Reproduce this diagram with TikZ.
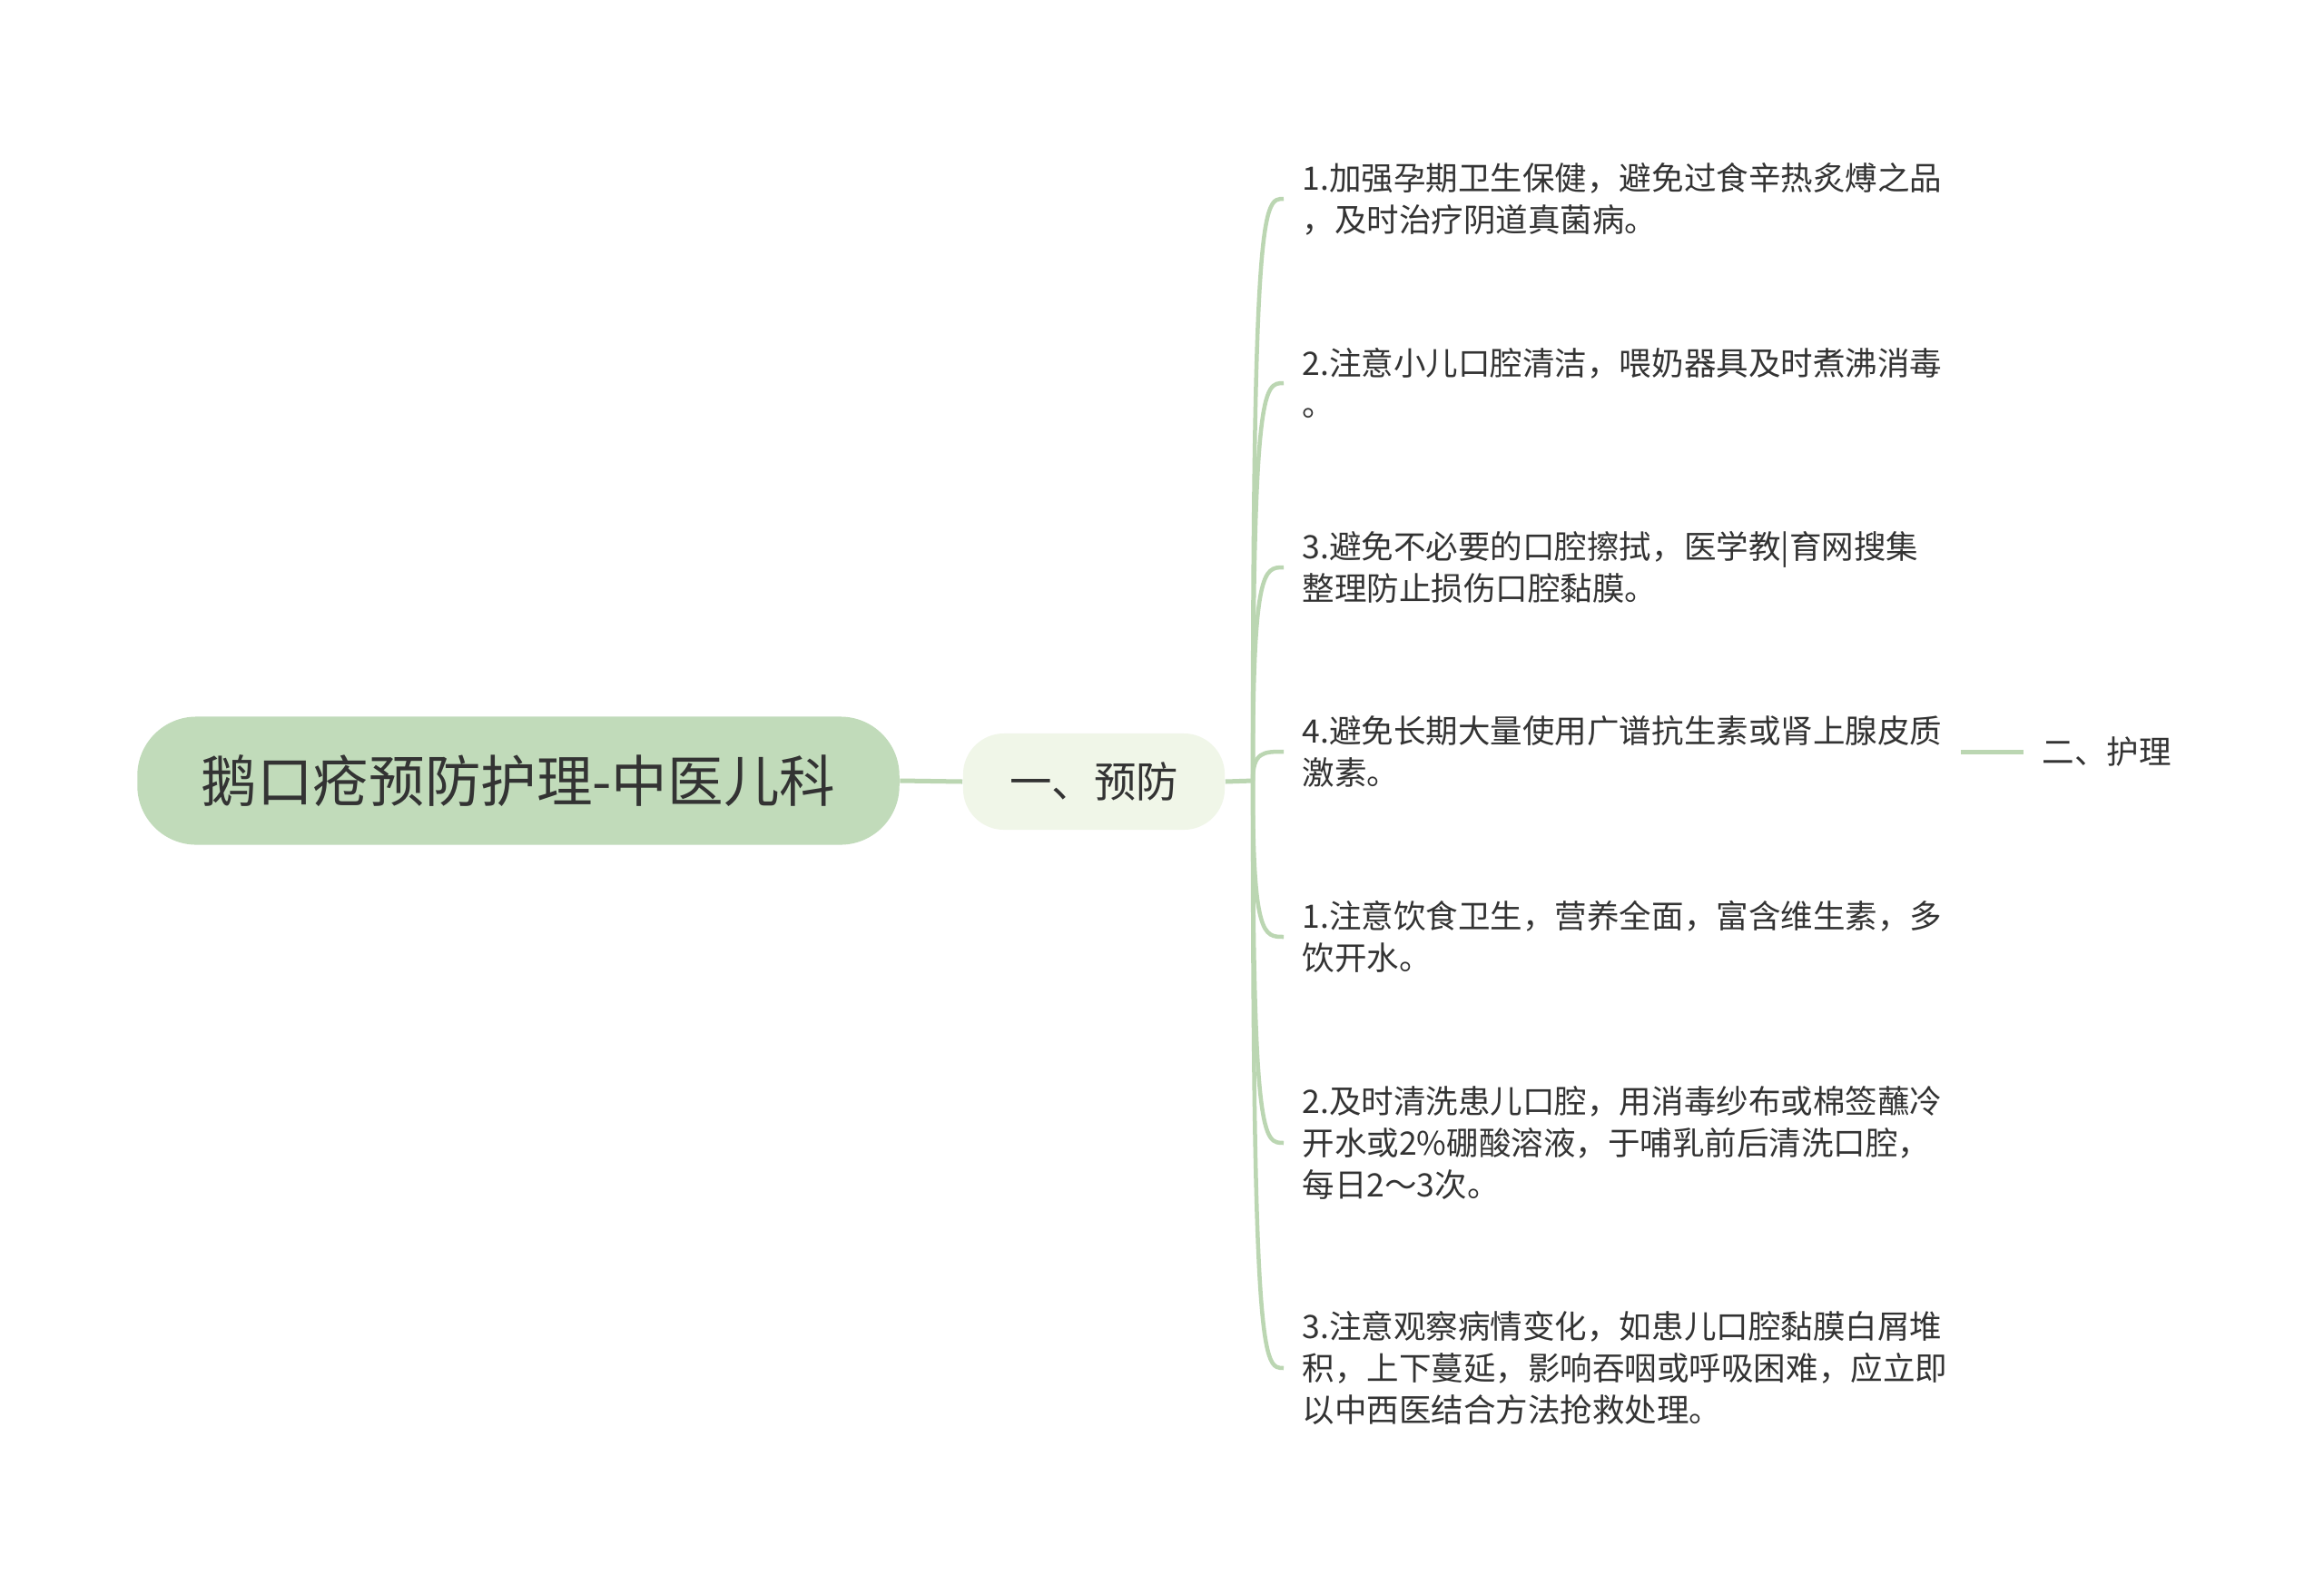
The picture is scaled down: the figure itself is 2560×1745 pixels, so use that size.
\documentclass[tikz,border=0pt]{standalone}
\usepackage{fontspec}
\setmainfont{Noto Sans CJK SC}
\usetikzlibrary{calc}
\definecolor{rootgreen}{HTML}{C1DBBA}
\definecolor{subgreen}{HTML}{F0F6E8}
\definecolor{linegreen}{HTML}{BBD6B2}
\definecolor{txtgray}{HTML}{333333}

\begin{document}
\begin{tikzpicture}[x=0.01cm, y=0.01cm,
    rootbox/.style={fill=rootgreen, rounded corners=0.65cm, minimum width=8.39cm, minimum height=1.41cm, inner sep=0pt, text=txtgray, font=\fontsize{17.5pt}{21pt}\selectfont},
    subbox/.style={fill=subgreen, rounded corners=0.45cm, minimum width=2.88cm, minimum height=1.06cm, inner sep=0pt, text=txtgray, font=\fontsize{13.2pt}{16pt}\selectfont},
    item/.style={anchor=west, align=left, inner xsep=0.2cm, inner ysep=0pt, text=txtgray, font=\fontsize{10.1pt}{13pt}\selectfont},
    link/.style={draw=linegreen, line width=0.05cm},
    branch/.style={draw=linegreen, line width=0.045cm}]

    \useasboundingbox[fill=white] (0,-1745) rectangle (2560,0);

    % Draw root and first level
    \node[rootbox] (root) at (571, -860) {鹅口疮预防护理-中医儿科};
    \node[subbox] (yf) at (1205, -861) {一、预防};
    \coordinate (fork) at (1380, -860);

    % Draw items
    \node[item] (i1) at (1414, -219) {1.加强孕期卫生保健，避免过食辛热炙煿之品\\，及时治疗阴道真菌病。};
    \node[item] (i2) at (1414, -422) {2.注意小儿口腔清洁，喂奶器具及时煮沸消毒\\。};
    \node[item] (i3) at (1414, -625) {3.避免不必要的口腔擦拭，医学教|育网搜集\\整理防止损伤口腔黏膜。};
    \node[item] (i4) at (1414, -828) {4.避免长期大量使用广谱抗生素或肾上腺皮质\\激素。};
    \node[item] (i5) at (1414, -1032) {1.注意饮食卫生，营养全面，富含维生素，多\\饮开水。};
    \node[item] (i6) at (1414, -1259) {2.及时清洗患儿口腔，用消毒纱布或棉签蘸冷\\开水或2\%硼酸溶液，于哺乳前后清洗口腔，\\每日2～3次。};
    \node[item] (i7) at (1414, -1507) {3.注意观察病情变化，如患儿口腔黏膜白屑堆\\积，上下蔓延，影响吞咽或呼吸困难，应立即\\以中西医结合方法抢救处理。};

    \node[item] (hl) at (2229, -828) {二、护理};

    % Draw connectors
    \draw[link] (root.east) -- (yf.west);
    \draw[link] (yf.east) -- (fork);
    \draw[branch] (fork) .. controls (fork |- i1.west) and ($(i1.west)+(-22,0)$) .. (i1.west);
    \draw[branch] (fork) .. controls (fork |- i2.west) and ($(i2.west)+(-22,0)$) .. (i2.west);
    \draw[branch] (fork) .. controls (fork |- i3.west) and ($(i3.west)+(-22,0)$) .. (i3.west);
    \draw[branch] (fork) .. controls (fork |- i4.west) and ($(i4.west)+(-22,0)$) .. (i4.west);
    \draw[branch] (fork) .. controls (fork |- i5.west) and ($(i5.west)+(-22,0)$) .. (i5.west);
    \draw[branch] (fork) .. controls (fork |- i6.west) and ($(i6.west)+(-22,0)$) .. (i6.west);
    \draw[branch] (fork) .. controls (fork |- i7.west) and ($(i7.west)+(-22,0)$) .. (i7.west);
    \draw[link] (i4.east) -- (hl.west);
\end{tikzpicture}
\end{document}
